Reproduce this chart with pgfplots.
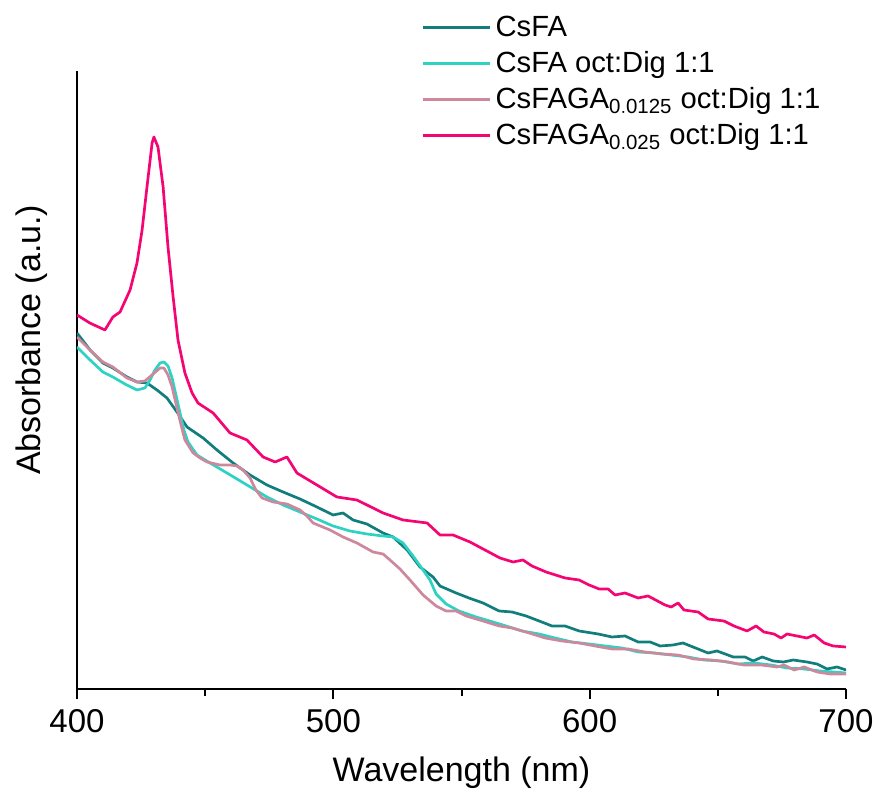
\documentclass[border=0pt]{standalone}
\usepackage{pgfplots}
\pgfplotsset{compat=1.18}
\usepackage{fontspec}
\setmainfont{Liberation Sans}
\definecolor{cteal}{RGB}{17,125,125}
\definecolor{ccyan}{RGB}{45,210,195}
\definecolor{cmauve}{RGB}{205,137,155}
\definecolor{cpink}{RGB}{245,5,115}
\begin{document}
\begin{tikzpicture}
\useasboundingbox (-38.5pt,-53pt) rectangle (400pt,344.5pt);
\begin{axis}[
  at={(0pt,0pt)}, anchor=south west,
  scale only axis, width=384.5pt, height=309pt,
  xmin=400, xmax=700, ymin=0, ymax=618,
  axis x line*=bottom, axis y line*=left,
  axis line style={line width=1pt, -},
  xtick={400,500,600,700}, minor xtick={450,550,650},
  ytick=\empty,
  tick align=outside,
  major tick length=5pt, minor tick length=3.5pt,
  every tick/.style={black, line width=1pt},
  tick label style={font=\fontsize{16.5}{19}\selectfont},
  xticklabel style={yshift=-1.5pt},
  /pgf/number format/assume math mode=true,
  xlabel={Wavelength (nm)}, ylabel={Absorbance (a.u.)},
  label style={font=\fontsize{17}{20}\selectfont},
  xlabel style={at={(axis description cs:0.5,-0.136)}, anchor=center},
  ylabel style={at={(axis description cs:-0.0585,0.565)}, anchor=center, rotate=0},
  legend style={at={(axis description cs:0.448,1.096)}, anchor=north west, draw=none, fill=none,
    font=\fontsize{14.6}{17}\selectfont, inner sep=0pt, row sep=2pt,
    /tikz/every even column/.append style={column sep=4pt}},
  legend cell align=left,
  legend image code/.code={\draw[#1] (0pt,0pt) -- (33.5pt,0pt);},
  every axis plot/.append style={line width=1.35pt, line join=round},
]
\addplot[cteal] coordinates {
(400,356)(405.1,339)(410.1,326)(414.0,321)(419.5,312)(423.4,307)(427.3,306)(431.2,299)(435.1,291)(439.0,277)(442.9,262)(449.2,251)(454.6,239)(460.9,226)(467.5,214)(474.1,204)(480.4,197)(487.0,190)(493.6,182)(499.9,174)(503.8,176)(507.7,169)(513.1,165)(519.4,156)(523.3,152)(528.8,139)(533.8,122)(538.9,112)(541.6,103)(547.9,96)(552.9,91)(558.4,86)(564.7,78)(569.7,77)(575.2,73)(580.3,68)(585.3,63)(590.4,63)(595.9,58)(603.3,55)(608.7,52)(613.8,53)(618.9,47)(623.6,47)(627.5,43)(632.5,44)(636.4,46)(640.3,42)(646.2,36)(649.7,38)(656.0,32)(660.6,32)(663.8,28)(667.3,32)(671.6,28)(675.5,27)(679.4,29)(684.8,27)(688.7,25)(692.6,20)(696.5,22)(700,19)
};
\addlegendentry{CsFA}
\addplot[ccyan] coordinates {
(400,342)(405.1,329)(410.1,317)(414.0,312)(418.7,305)(423.4,299)(426.5,301)(428.5,309)(430.4,319)(432.4,326)(433.9,327)(435.5,323)(437.1,311)(438.6,294)(440.2,276)(441.7,259)(443.3,247)(446.8,234)(451.9,226)(458.5,216)(466.3,204)(474.1,192)(480.4,184)(487.0,177)(493.6,170)(499.9,163)(506.5,158)(513.1,155)(519.4,153)(523.3,152)(527.2,146)(531.1,133)(535.0,119)(537.7,109)(540.1,95)(544.0,85)(549.0,78)(555.7,72)(562.3,67)(567.4,63)(573.6,58)(580.3,55)(586.5,51)(593.1,47)(599.8,45)(606.0,43)(612.6,41)(618.9,37)(625.5,36)(631.8,34)(638.4,32)(644.6,29)(651.3,28)(657.9,25)(664.1,26)(670.8,24)(677.0,21)(683.7,20)(689.9,18)(695.4,17)(700,16)
};
\addlegendentry{CsFA oct:Dig 1:1}
\addplot[cmauve] coordinates {
(400,352)(405.1,339)(410.1,327)(414.0,322)(419.5,311)(423.4,307)(426.5,308)(429.7,315)(432.4,321)(433.9,321)(435.5,314)(437.1,302)(439.0,281)(440.6,264)(442.1,249)(445.3,236)(448.0,231)(450.7,227)(455.8,224)(459.7,224)(462.4,223)(464.8,219)(467.5,211)(469.8,199)(472.2,191)(476.5,187)(481.9,185)(487.0,179)(489.7,173)(492.1,166)(498.7,159)(503.8,152)(509.2,146)(515.5,137)(519.4,135)(522.1,129)(526.0,120)(529.9,109)(535.0,94)(540.1,83)(544.0,78)(547.9,78)(551.8,73)(558.4,68)(564.7,63)(569.7,61)(576.4,56)(582.6,51)(589.2,48)(595.9,46)(602.1,43)(608.7,40)(615.0,40)(621.6,37)(627.9,35)(634.5,34)(640.7,30)(647.4,29)(654.0,27)(660.2,24)(666.9,24)(673.1,22)(675.8,24)(679.8,19)(683.7,22)(688.7,17)(693.8,15)(700,15)
};
\addlegendentry{CsFAGA$_{\mathrm{0.0125}}$ oct:Dig 1:1}
\addplot[cpink] coordinates {
(400,374)(405.0,366)(410.9,359)(414.0,372)(416.8,377)(420.7,399)(423.4,426)(425.4,459)(427.3,502)(429.3,546)(430.0,552)(431.6,542)(433.6,502)(435.5,442)(437.5,392)(439.4,349)(442.1,316)(444.9,296)(447.2,286)(453.1,276)(459.7,256)(466.3,249)(472.6,232)(477.3,227)(481.9,232)(485.8,216)(493.6,204)(501.4,192)(509.2,189)(519.4,176)(527.2,169)(536.6,166)(541.6,154)(546.7,154)(553.3,147)(565.0,131)(570.1,127)(574.0,129)(577.5,123)(583.0,117)(590.4,111)(595.9,109)(599.8,104)(603.7,100)(607.2,100)(609.9,94)(613.8,96)(618.9,91)(622.8,93)(629.4,84)(631.8,82)(634.5,86)(636.8,79)(642.3,77)(646.2,70)(652.4,68)(656.3,63)(661.4,58)(664.9,63)(668.0,57)(671.9,55)(674.7,51)(677.0,55)(680.9,53)(684.8,51)(687.6,54)(691.5,46)(695.0,43)(700,42)
};
\addlegendentry{CsFAGA$_{\mathrm{0.025}}$ oct:Dig 1:1}
\end{axis}
\end{tikzpicture}
\end{document}
